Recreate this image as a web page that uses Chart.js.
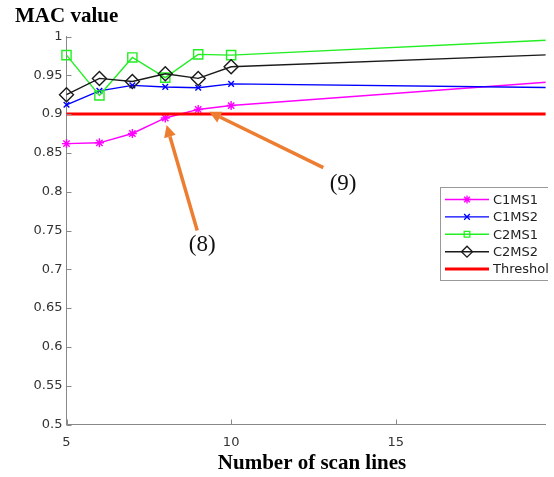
<!DOCTYPE html>
<html><head><meta charset="utf-8">
<script src="https://cdn.jsdelivr.net/npm/chart.js@4/dist/chart.umd.min.js"></script>
<style>html,body{margin:0;padding:0;background:#fff;overflow:hidden}#wrap{width:554px;height:477px}</style>
</head><body><div id="wrap"><canvas id="c"></canvas></div>
<script>
const scanLines = [5, 6, 7, 8, 9, 10, 20];
const c1ms1 = [0.862, 0.863, 0.875, 0.895, 0.906, 0.911, 0.9425];
const c1ms2 = [0.912, 0.930, 0.937, 0.935, 0.934, 0.939, 0.934];
const c2ms1 = [0.976, 0.924, 0.973, 0.947, 0.977, 0.976, 0.996];
const c2ms2 = [0.925, 0.946, 0.942, 0.952, 0.946, 0.961, 0.977];
const thresholdX = [5, 20];
const thresholdY = [0.9, 0.9];
const xTicks = [5, 10, 15];
const yTicks = [0.5, 0.55, 0.6, 0.65, 0.7, 0.75, 0.8, 0.85, 0.9, 0.95, 1];
const seriesNames = ['C1MS1', 'C1MS2', 'C2MS1', 'C2MS2', 'Threshold'];
const annotations = [
  {label: '(8)', head: [8.04, 0.886], tail: [8.97, 0.750], text: [9.12, 0.731]},
  {label: '(9)', head: [9.33, 0.903], tail: [12.8, 0.831], text: [13.4, 0.810]}
];

const pts = (xs, ys) => xs.map((x, i) => ({x: x, y: ys[i]}));
const XMAX = 19.55;
const rad = r => ctx => (ctx.raw && ctx.raw.x > XMAX ? 0 : r);
const SANS = '"DejaVu Sans", Arial, sans-serif';
const SERIF = '"Liberation Serif", "Times New Roman", serif';

const styles = [
  {color: '#ff00ff', style: 'star', r: 4.5, w: 1.4},
  {color: '#0000ff', style: 'crossRot', r: 4, w: 1.4},
  {color: '#22ee22', style: 'rect', r: 6.5, w: 1.4},
  {color: '#1a1a1a', style: 'rectRot', r: 7, w: 1.4},
  {color: '#ff0000', style: false, r: 0, w: 3}
];
const seriesData = [pts(scanLines, c1ms1), pts(scanLines, c1ms2), pts(scanLines, c2ms1), pts(scanLines, c2ms2), pts(thresholdX, thresholdY)];

const datasets = seriesData.map((d, i) => ({
  label: seriesNames[i],
  data: d,
  borderColor: styles[i].color,
  backgroundColor: 'rgba(0,0,0,0)',
  borderWidth: styles[i].w,
  pointStyle: styles[i].style,
  pointRadius: rad(styles[i].r),
  pointBorderColor: styles[i].color,
  pointBackgroundColor: 'rgba(0,0,0,0)',
  pointBorderWidth: 1.4,
  tension: 0,
  fill: false,
  clip: {left: false, top: false, right: 0, bottom: false},
  order: i === 4 ? 0 : 5 - i
}));

function hollowPoint(ctx, st, x, y, r) {
  ctx.save();
  ctx.fillStyle = 'rgba(0,0,0,0)';
  ctx.strokeStyle = st.color;
  ctx.lineWidth = 1.3;
  Chart.helpers.drawPoint(ctx, {pointStyle: st.style, radius: r, borderWidth: 1.3, rotation: 0}, x, y);
  ctx.restore();
}

const extras = {
  id: 'extras',
  afterDraw(chart) {
    const ctx = chart.ctx, xs = chart.scales.x, ys = chart.scales.y, a = chart.chartArea;
    ctx.save();
    ctx.strokeStyle = '#888';
    ctx.lineWidth = 1;
    xTicks.forEach(v => {
      const px = Math.round(xs.getPixelForValue(v)) + 0.5;
      ctx.beginPath(); ctx.moveTo(px, a.bottom); ctx.lineTo(px, a.bottom - 5); ctx.stroke();
    });
    yTicks.forEach(v => {
      const py = Math.round(ys.getPixelForValue(v)) + 0.5;
      ctx.beginPath(); ctx.moveTo(a.left, py); ctx.lineTo(a.left + 5, py); ctx.stroke();
    });
    ctx.fillStyle = '#000';
    ctx.font = 'bold 21px ' + SERIF;
    ctx.textAlign = 'left'; ctx.textBaseline = 'alphabetic';
    ctx.fillText('MAC value', 15, 22);
    ctx.textAlign = 'center'; ctx.textBaseline = 'middle';
    ctx.fillText('Number of scan lines', 312, 464);
    annotations.forEach(an => {
      const hx = xs.getPixelForValue(an.head[0]), hy = ys.getPixelForValue(an.head[1]);
      const tx = xs.getPixelForValue(an.tail[0]), ty = ys.getPixelForValue(an.tail[1]);
      const ang = Math.atan2(hy - ty, hx - tx);
      const hl = 12, hw = 6;
      const bx = hx - hl * Math.cos(ang), by = hy - hl * Math.sin(ang);
      ctx.strokeStyle = '#ed7d31'; ctx.fillStyle = '#ed7d31';
      ctx.lineWidth = 3.5; ctx.lineCap = 'butt';
      ctx.beginPath(); ctx.moveTo(tx, ty); ctx.lineTo(bx, by); ctx.stroke();
      ctx.beginPath();
      ctx.moveTo(hx, hy);
      ctx.lineTo(bx + hw * Math.sin(ang), by - hw * Math.cos(ang));
      ctx.lineTo(bx - hw * Math.sin(ang), by + hw * Math.cos(ang));
      ctx.closePath(); ctx.fill();
      ctx.fillStyle = '#111';
      ctx.font = '23px ' + SERIF;
      ctx.textAlign = 'center'; ctx.textBaseline = 'middle';
      ctx.fillText(an.label, xs.getPixelForValue(an.text[0]), ys.getPixelForValue(an.text[1]));
    });
    // legend (clipped at the crop edge like the reference)
    ctx.save();
    ctx.beginPath(); ctx.rect(0, 0, 548, 477); ctx.clip();
    const lx = 440, ly = 187, lw = 130, lh = 93;
    ctx.fillStyle = '#fff';
    ctx.fillRect(lx, ly, lw, lh);
    ctx.strokeStyle = '#999'; ctx.lineWidth = 1;
    ctx.strokeRect(lx + 0.5, ly + 0.5, lw, lh);
    ctx.font = '13px ' + SANS;
    ctx.textAlign = 'left'; ctx.textBaseline = 'middle';
    seriesNames.forEach((n, i) => {
      const y = ly + 12.5 + i * 17.4;
      const st = styles[i];
      ctx.strokeStyle = st.color; ctx.lineWidth = st.w;
      ctx.beginPath(); ctx.moveTo(445, y); ctx.lineTo(489, y); ctx.stroke();
      if (st.style) hollowPoint(ctx, st, 467, y, st.style === 'rect' ? 4 : (st.style === 'rectRot' ? 5.5 : 4));
      ctx.fillStyle = '#222';
      ctx.fillText(n, 493, y + 1);
    });
    ctx.restore();
    ctx.restore();
  }
};

new Chart(document.getElementById('c'), {
  type: 'line',
  data: {datasets: datasets},
  options: {
    responsive: true, maintainAspectRatio: false, animation: false,
    layout: {padding: {top: 36.5, right: 6, left: 0, bottom: 0}},
    plugins: {legend: {display: false}, tooltip: {enabled: false}},
    scales: {
      x: {
        type: 'linear', min: 5, max: XMAX,
        afterBuildTicks: s => { s.ticks = xTicks.map(v => ({value: v})); },
        afterFit: s => { s.height = 52.5; },
        grid: {display: true, drawOnChartArea: false, drawTicks: false},
        border: {display: true, color: '#888', width: 1},
        ticks: {color: '#333', padding: 10, font: {family: SANS, size: 13}, maxRotation: 0},
        title: {display: false}
      },
      y: {
        type: 'linear', min: 0.5, max: 1,
        afterBuildTicks: s => { s.ticks = yTicks.map(v => ({value: v})); },
        afterFit: s => { s.width = 66.5; },
        grid: {display: true, drawOnChartArea: false, drawTicks: false},
        border: {display: true, color: '#888', width: 1},
        ticks: {color: '#333', padding: 4, font: {family: SANS, size: 13},
          callback: v => String(Number(v.toFixed(2)))}
      }
    }
  },
  plugins: [extras]
});
</script>
</body></html>
